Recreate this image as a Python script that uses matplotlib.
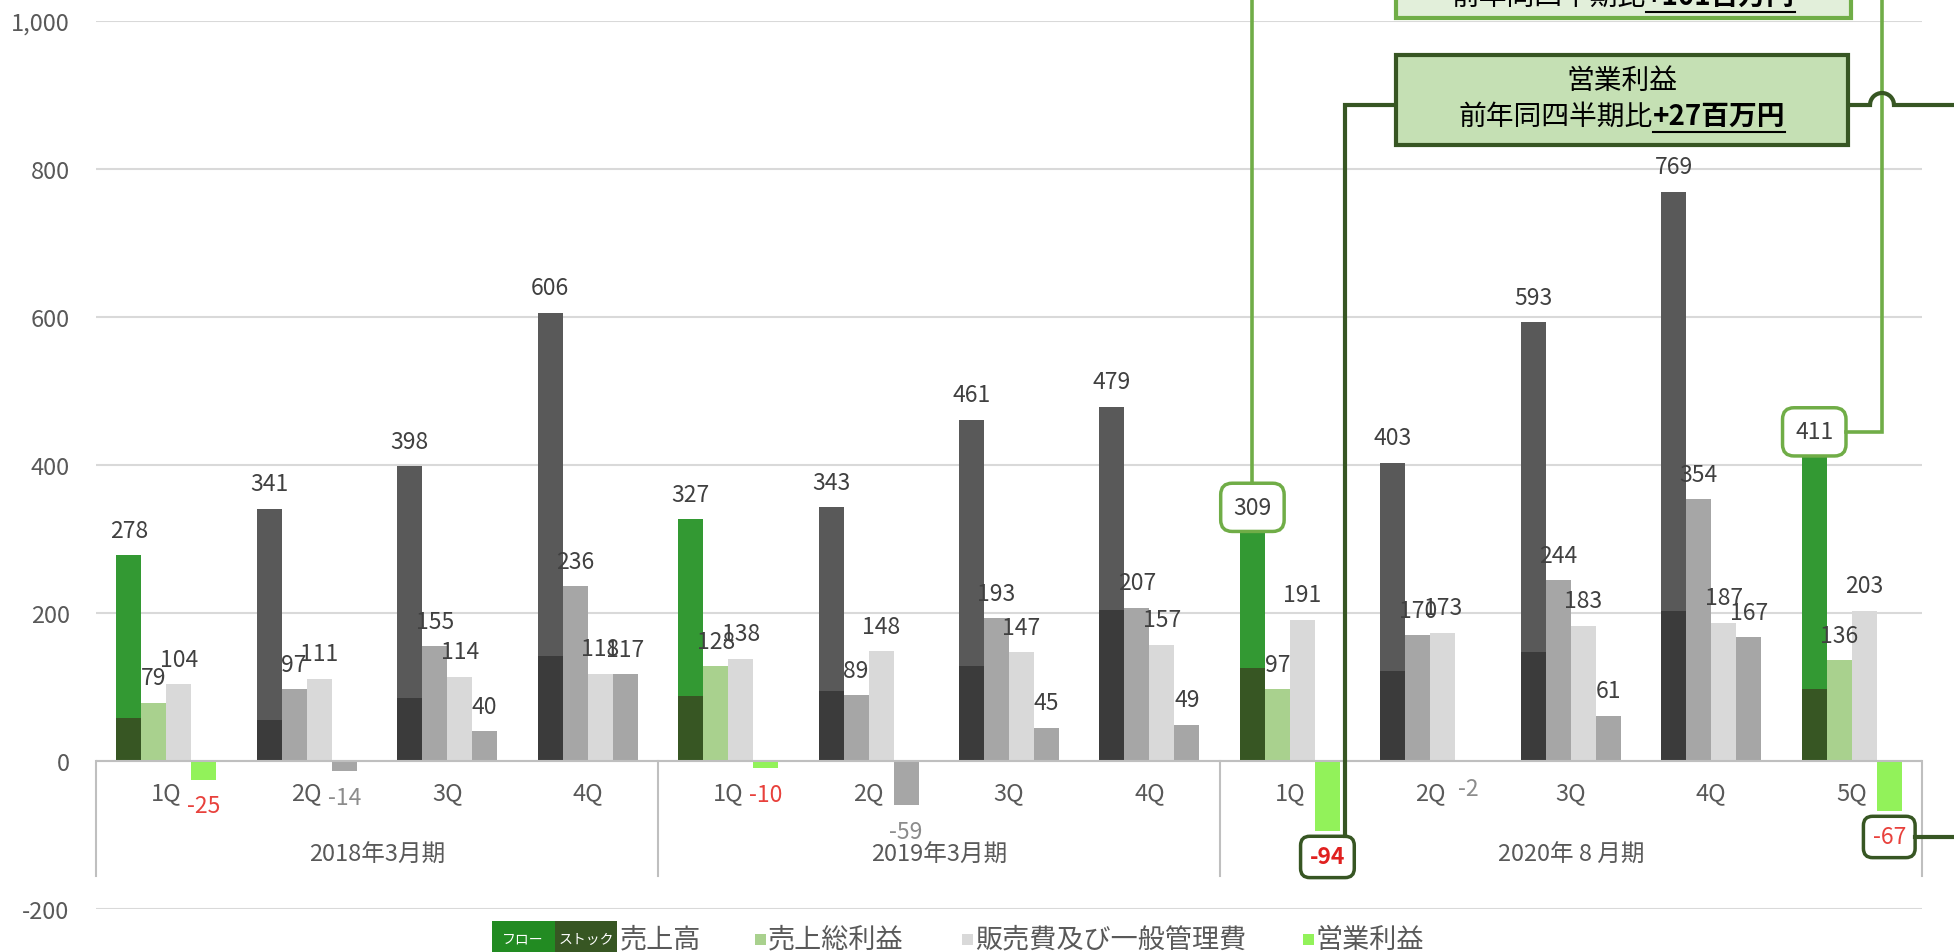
import numpy as np
import matplotlib.pyplot as plt
from matplotlib.patches import Rectangle, Arc
from matplotlib.lines import Line2D

plt.rcParams['font.family'] = ['Noto Sans CJK JP', 'DejaVu Sans']

# data (百万円)
periods = ['2018年3月期', '2019年3月期', '2020年 8 月期']
period_len = [4, 4, 5]
quarters = ['1Q', '2Q', '3Q', '4Q', '1Q', '2Q', '3Q', '4Q', '1Q', '2Q', '3Q', '4Q', '5Q']
sales = [278, 341, 398, 606, 327, 343, 461, 479, 309, 403, 593, 769, 411]
stock = [58, 56, 85, 142, 88, 94, 128, 204, 126, 122, 147, 203, 97]
gross = [79, 97, 155, 236, 128, 89, 193, 207, 97, 170, 244, 354, 136]
sga = [104, 111, 114, 118, 138, 148, 147, 157, 191, 173, 183, 187, 203]
op = [-25, -14, 40, 117, -10, -59, 45, 49, -94, -2, 61, 167, -67]
green_q = [0, 4, 8, 12]

W, H = 1954, 953
fig = plt.figure(figsize=(W / 100, H / 100), dpi=100)
ax = fig.add_axes([96 / W, 1 - 910 / H, (1922 - 96) / W, (910 - 22) / H])


def fxy(x, y):
    # pixel position (top-left origin) -> figure fraction
    return x / W, 1 - y / H


n = len(quarters)
x = np.arange(n)
w = 0.178
isg = np.array([i in green_q for i in range(n)])

flow = np.array(sales) - np.array(stock)
c_flow = np.where(isg, '#339933', '#595959')
c_stock = np.where(isg, '#375623', '#3b3b3b')
c_gross = np.where(isg, '#a9d18e', '#a6a6a6')
c_op = np.where(isg, '#92f25a', '#a6a6a6')

ax.bar(x - 1.5 * w, stock, w, color=c_stock, zorder=2)
ax.bar(x - 1.5 * w, flow, w, bottom=stock, color=c_flow, zorder=2)
ax.bar(x - 0.5 * w, gross, w, color=c_gross, zorder=2)
ax.bar(x + 0.5 * w, sga, w, color='#d9d9d9', zorder=2)
ax.bar(x + 1.5 * w, op, w, color=c_op, zorder=2)

ax.set_xlim(-0.5, n - 0.5)
ax.set_ylim(-200, 1000)
ax.set_yticks(range(-200, 1001, 200))
ax.set_yticklabels([f'{v:,}' for v in range(-200, 1001, 200)])
ax.set_xticks([])
ax.tick_params(axis='y', length=0, pad=19, labelsize=17, labelcolor='#595959')
for s in ax.spines.values():
    s.set_visible(False)
ax.yaxis.grid(True, color='#d9d9d9', lw=1.5)
ax.set_axisbelow(True)
ax.axhline(0, color='#bfbfbf', lw=1.5, zorder=3)

# category axis (quarters + fiscal periods)
bounds = np.concatenate([[0], np.cumsum(period_len)]) - 0.5
for b in bounds:
    ax.plot([b, b], [0, -155], color='#bfbfbf', lw=1.5, clip_on=False, zorder=3)
for i, q in enumerate(quarters):
    ax.text(i, -43, q, ha='center', va='center', fontsize=17, color='#595959')
for k, p in enumerate(periods):
    ax.text((bounds[k] + bounds[k + 1]) / 2, -126, p, ha='center', va='center',
            fontsize=17, color='#595959')

# value labels
labels = {}
for series, off in [(sales, -1.5), (gross, -0.5), (sga, 0.5), (op, 1.5)]:
    for i, v in enumerate(series):
        if v >= 0:
            col, dy = '#404040', 18
        else:
            col, dy = ('#e8413c' if isg[i] else '#8c8c8c'), -19
        t = ax.annotate(str(v), (x[i] + off * w, v), xytext=(0, dy),
                        textcoords='offset points', ha='center', va='center',
                        fontsize=16.5, color=col, zorder=5)
        labels[(off, i)] = t

for i in (8, 12):
    labels[(-1.5, i)].set_bbox(dict(boxstyle='round,pad=0.55,rounding_size=0.5',
                                    fc='white', ec='#70ad47', lw=2.5))
    labels[(1.5, i)].set_bbox(dict(boxstyle='round,pad=0.4,rounding_size=0.4',
                                   fc='white', ec='#375623', lw=2.5))
labels[(1.5, 8)].set_fontweight('bold')
labels[(1.5, 8)].set_color('#e0201f')

fig.canvas.draw()
r = fig.canvas.get_renderer()


def box_ext(t):
    return t.get_bbox_patch().get_window_extent(r)


def fline(xs, ys, color, lw=2.6, z=6):
    # xs, ys in display pixels (bottom-left origin)
    fig.add_artist(Line2D(np.array(xs) / W, np.array(ys) / H, transform=fig.transFigure,
                          color=color, lw=lw, zorder=z, solid_joinstyle='miter'))


LG, DG = '#70ad47', '#375623'

# light green connectors (売上高 callout)
b309 = box_ext(labels[(-1.5, 8)])
fline([(b309.x0 + b309.x1) / 2] * 2, [H, b309.y1], LG)
b411 = box_ext(labels[(-1.5, 12)])
yc = (b411.y0 + b411.y1) / 2
fline([1882, 1882, b411.x1], [H, yc, yc], LG)

# dark green connectors (営業利益 callout)
y_op = H - 106
bm94 = box_ext(labels[(1.5, 8)])
xv = (bm94.x0 + bm94.x1) / 2 + 18
fline([1396, xv, xv], [y_op, y_op, bm94.y1], DG, lw=3)
fline([1848, 1870], [y_op, y_op], DG, lw=3)
fline([1894, W], [y_op, y_op], DG, lw=3)
fig.add_artist(Arc((1882 / W, y_op / H), 24 / W, 24 / H, theta1=0, theta2=180,
                   transform=fig.transFigure, color=DG, lw=3, zorder=6))
bm67 = box_ext(labels[(1.5, 12)])
yc = (bm67.y0 + bm67.y1) / 2
fline([bm67.x1, W], [yc, yc], DG, lw=3)


def mixed(cx, cy, normal, bold, size):
    t1 = fig.text(0, 0, normal, fontsize=size, ha='left', va='center', zorder=8)
    t2 = fig.text(0, 0, bold, fontsize=size, fontweight='bold', ha='left', va='center', zorder=8)
    w1 = t1.get_window_extent(r).width
    w2 = t2.get_window_extent(r).width
    x0 = cx - (w1 + w2) / 2
    t1.set_position(fxy(x0, cy))
    t2.set_position(fxy(x0 + w1, cy))
    fig.add_artist(Line2D([(x0 + w1) / W, (x0 + w1 + w2) / W], [1 - (cy + 16) / H] * 2,
                          transform=fig.transFigure, color='black', lw=1.5, zorder=8))


# top callout (cut by the figure edge)
fig.add_artist(Rectangle(fxy(1396, 19), (1851 - 1396) / W, 140 / H, transform=fig.transFigure,
                         fc='#e2efda', ec=LG, lw=3, zorder=7))
mixed(1623, -3, '前年同四半期比', '+101百万円', 20)

# 営業利益 callout
fig.add_artist(Rectangle(fxy(1396, 146), (1848 - 1396) / W, 90 / H, transform=fig.transFigure,
                         fc='#c5e0b4', ec=DG, lw=3, zorder=7))
fig.text(*fxy(1622, 81), '営業利益', fontsize=20, ha='center', va='center', zorder=8)
mixed(1622, 117, '前年同四半期比', '+27百万円', 20)

# legend
ly = 940
fig.add_artist(Rectangle(fxy(492, 953), 63 / W, 31 / H, transform=fig.transFigure,
                         fc='#228b22', ec='none'))
fig.add_artist(Rectangle(fxy(555, 953), 62 / W, 31 / H, transform=fig.transFigure,
                         fc='#375623', ec='none'))
fig.text(*fxy(523, ly), 'フロー', fontsize=10, color='white', ha='center', va='center')
fig.text(*fxy(586, ly), 'ストック', fontsize=10, color='white', ha='center', va='center')
fig.text(*fxy(620, ly), '売上高', fontsize=19.5, color='#595959', va='center')
for mx, col, txt in [(755, '#a9d18e', '売上総利益'), (962, '#d9d9d9', '販売費及び一般管理費'),
                     (1303, '#92f25a', '営業利益')]:
    fig.add_artist(Rectangle(fxy(mx, ly + 6), 11 / W, 11 / H, transform=fig.transFigure,
                             fc=col, ec='none'))
    fig.text(*fxy(mx + 13, ly), txt, fontsize=19.5, color='#595959', va='center')

fig.savefig('out.png', dpi=100)
